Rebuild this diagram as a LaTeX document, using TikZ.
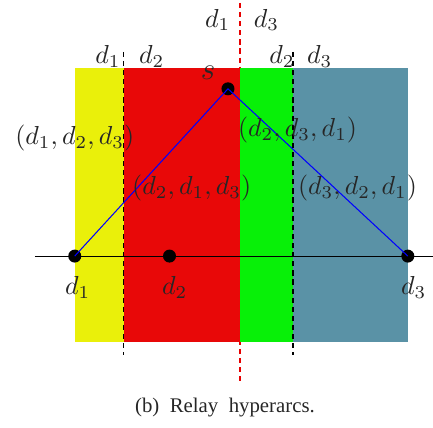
\documentclass[tikz,border=0pt]{standalone}
\usepackage{amsfonts,amsmath,amssymb}
\usepackage{xcolor}
\usepackage{fontspec}
\newfontfamily\capfont{Liberation Serif}
\usepackage{tikz}
\usetikzlibrary{arrows.meta,shapes,patterns,positioning}
\definecolor{zoneY}{RGB}{234,240,10}
\definecolor{zoneR}{RGB}{232,8,8}
\definecolor{zoneG}{RGB}{8,240,8}
\definecolor{zoneB}{RGB}{90,146,166}
\definecolor{midred}{RGB}{230,0,0}
\tikzset{pt/.style={circle,fill=black,inner sep=0pt,minimum size=5pt},
lbl/.style={inner sep=1pt,text=black!85},
border/.style={line width=0.5pt,dash pattern=on 2pt off 1.5pt}}

\begin{document}
\begin{tikzpicture}[>=stealth]
\useasboundingbox(-1.01,-2.32)rectangle(4.84,3.46);
% middle border, under the zones
\coordinate(mt)at(2.23,3.42);
\coordinate(mb)at(2.23,-1.73);
\draw[border,draw=midred,line width=0.6pt](mt)--(mb);
% zones
\fill[zoneY](0,-1.16)rectangle(0.66,2.54);
\fill[zoneR](0.66,-1.16)rectangle(2.23,2.54);
\fill[zoneG](2.23,-1.16)rectangle(2.95,2.54);
\fill[zoneB](2.95,-1.16)rectangle(4.5,2.54);
% borders
\coordinate(b1t)at(0.66,2.76);
\coordinate(b1b)at(0.66,-1.34);
\coordinate(b2t)at(2.95,2.76);
\coordinate(b2b)at(2.95,-1.34);
\draw[border](b1t)--(b1b);
\draw[border](b2t)--(b2b);
% axis
\coordinate(al)at(-0.54,0);
\coordinate(ar)at(4.84,0);
\draw[thin](al)--(ar);
\node[pt](p1)at(0,0){};
\node[pt](p2)at(1.28,0){};
\node[pt](p3)at(4.5,0){};
\node[pt](ps)at(2.07,2.26){};
\draw[blue,thin](p1.center)--(ps.center)--(p3.center);
% labels
\node[lbl](l1)at(0.04,-0.43){$d_1$};
\node[lbl](l2)at(1.35,-0.43){$d_2$};
\node[lbl](l3)at(4.58,-0.43){$d_3$};
\node[lbl,font=\large](ls)at(1.80,2.47){$s$};
\node[lbl](t1)at(0.45,2.70){$d_1$};
\node[lbl](t2)at(1.04,2.70){$d_2$};
\node[lbl](t3)at(2.80,2.70){$d_2$};
\node[lbl](t4)at(3.31,2.70){$d_3$};
\node[lbl](m1)at(1.93,3.19){$d_1$};
\node[lbl](m2)at(2.59,3.19){$d_3$};
\node[lbl](o1)at(0,1.59){$(d_1,d_2,d_3)$};
\node[lbl](o2)at(3.01,1.70){$(d_2,d_3,d_1)$};
\node[lbl](o3)at(1.58,0.92){$(d_2,d_1,d_3)$};
\node[lbl](o4)at(3.82,0.92){$(d_3,d_2,d_1)$};
\node[lbl,font=\capfont\fontsize{8}{10}\selectfont](cap)at(2.03,-2.05){(b)\ \ Relay\ \ hyperarcs.};
\end{tikzpicture}
\end{document}
